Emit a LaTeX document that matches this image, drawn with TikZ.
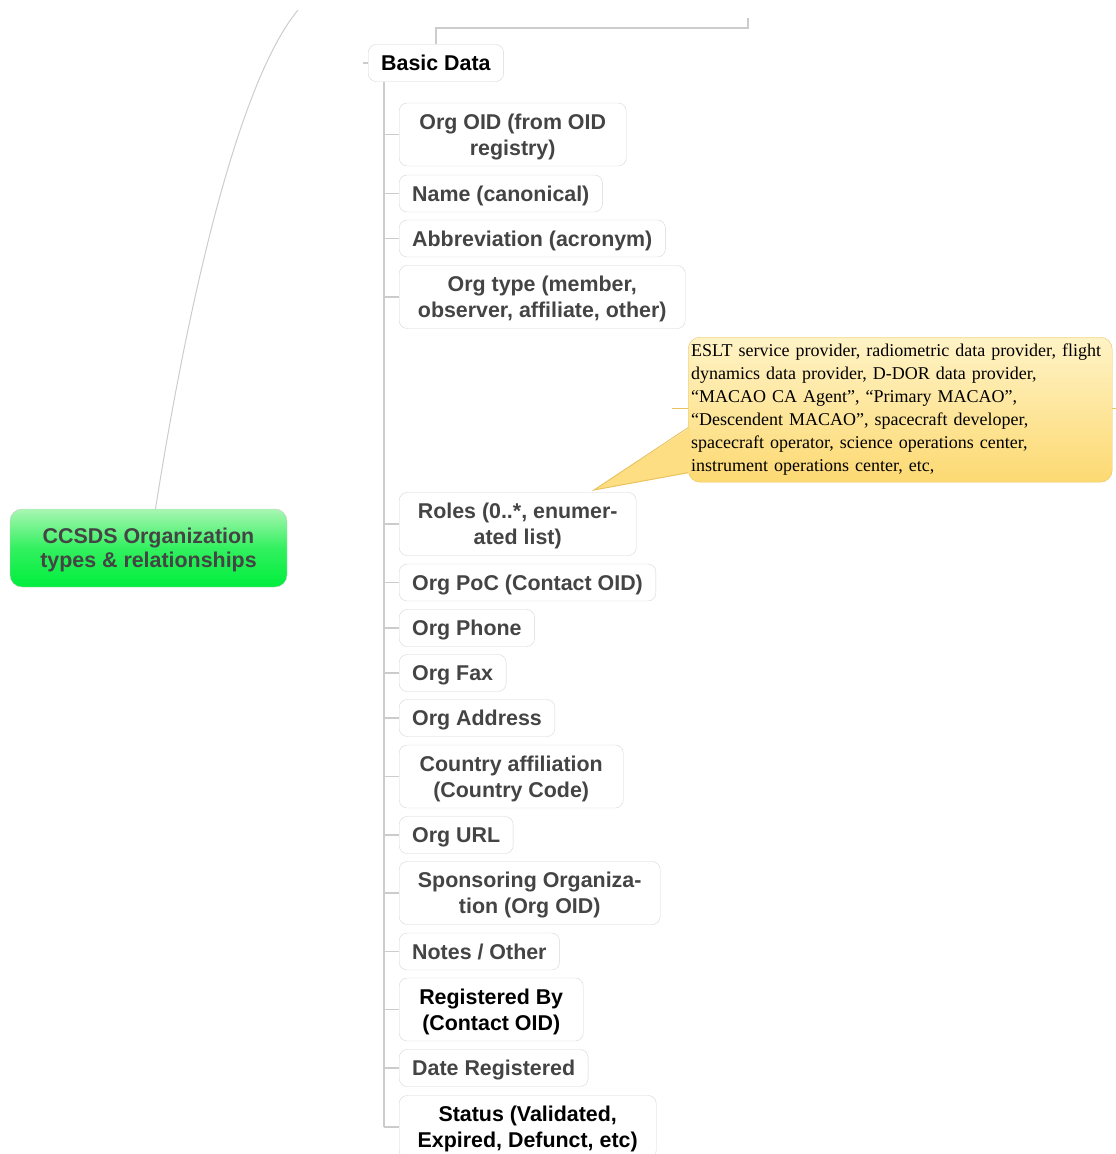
\documentclass[tikz,border=0pt]{standalone}
\usepackage{fontspec}
\setmainfont{Liberation Sans}
\newfontfamily\notefont{Liberation Serif}
\usepackage{xcolor}
\usetikzlibrary{positioning,calc}
\definecolor{linegray}{HTML}{CCCCCC}
\definecolor{boxgray}{HTML}{D6D6D6}
\definecolor{textgray}{HTML}{444444}
\definecolor{rootlight}{HTML}{A8F6B2}
\definecolor{rootgreen}{HTML}{00EE3C}
\definecolor{notelight}{HTML}{FFF3C6}
\definecolor{notedark}{HTML}{FCD972}
\definecolor{noteedge}{HTML}{EBC35E}

\tikzset{
  leaf/.style={draw=boxgray, fill=white, rounded corners=8pt, anchor=west,
    align=center, text=textgray, font=\fontsize{21.4}{26}\selectfont\bfseries,
    inner xsep=13pt, inner ysep=8pt, minimum height=37pt, text depth=-1pt},
  twoline/.style={leaf, minimum height=63pt},
  dark/.style={text=black},
  branch/.style={draw=linegray, line width=1.2pt},
}

\begin{document}
\begin{tikzpicture}[x=1pt,y=-1pt]
    \useasboundingbox (0,0) rectangle (1116,1154);

    % Root
    \node[draw=linegray, rounded corners=12pt, top color=rootlight, bottom color=rootgreen,
          middle color=rootgreen!70!rootlight, minimum width=277pt, minimum height=78pt,
          align=center, text=textgray, text depth=-1pt, font=\fontsize{21.4}{24}\selectfont\bfseries]
          (root) at (148.5,548) {CCSDS Organization\\types \& relationships};
    \coordinate (curveend) at (298,10);
    \draw[draw=linegray, line width=1pt] ($(root.north)+(7,0)$)
        .. controls (190,290) and (240,80) .. (curveend);

    % Basic Data
    \node[leaf, dark] (basic) at (368,63) {Basic Data};
    \coordinate (topend) at (748,18);
    \draw[branch] (basic.north) |- (748,28) -- (topend);
    \coordinate (basicstub) at (363,63);
    \draw[branch] (basic.west) -- (basicstub);

    % Children
    \node[twoline, minimum width=227pt] (oid) at (399,134.5) {Org OID (from OID\\registry)};
    \node[leaf] (name) at (399,193.5) {Name (canonical)};
    \node[leaf] (abbr) at (399,238.5) {Abbreviation (acronym)};
    \node[twoline, minimum width=286pt] (type) at (399,297) {Org type (member,\\observer, affiliate, other)};
    \node[twoline, minimum width=237pt] (roles) at (399,524) {Roles (0..*, enumer-\\ated list)};
    \node[leaf] (poc) at (399,582.5) {Org PoC (Contact OID)};
    \node[leaf] (phone) at (399,628) {Org Phone};
    \node[leaf] (fax) at (399,673) {Org Fax};
    \node[leaf] (addr) at (399,718) {Org Address};
    \node[twoline, minimum width=224pt] (country) at (399,776.5) {Country affiliation\\(Country Code)};
    \node[leaf] (url) at (399,835) {Org URL};
    \node[twoline, minimum width=261pt] (spons) at (399,893) {Sponsoring Organiza-\\tion (Org OID)};
    \node[leaf] (notes) at (399,951.5) {Notes / Other};
    \node[twoline, dark, minimum width=184pt] (regby) at (399,1009.5) {Registered By\\(Contact OID)};
    \node[leaf] (date) at (399,1068) {Date Registered};
    \node[twoline, dark, minimum width=257pt] (status) at (399,1127) {Status (Validated,\\Expired, Defunct, etc)};

    % Spine and branches
    \coordinate (spinetop) at (384,82);
    \draw[branch] (spinetop) -- (spinetop |- status.west);
    \foreach \n in {oid,name,abbr,type,roles,poc,phone,fax,addr,country,url,spons,notes,regby,date,status}
        \draw[branch] (spinetop |- \n.west) -- (\n.west);

    % Roles note
    \coordinate (noteleft) at (672,408);
    \coordinate (noteright) at (1116,408);
    \draw[draw=noteedge, line width=1pt] (noteleft) -- (noteright);
    \node[draw=noteedge, rounded corners=12pt, top color=notelight, bottom color=notedark,
          anchor=north west, minimum width=422pt, minimum height=145pt, align=left,
          text width=418pt, inner xsep=3pt, inner ysep=5pt, text=black,
          font=\notefont\fontsize{18}{23}\selectfont]
          (note) at (688,337) {ESLT service provider, radiometric data provider, flight\\
          dynamics data provider, D-DOR data provider,\\
          “MACAO CA Agent”, “Primary MACAO”,\\
          “Descendent MACAO”, spacecraft developer,\\
          spacecraft operator, science operations center,\\
          instrument operations center, etc,};
    \coordinate (notetip) at (594,490);
    \fill[notedark!80!notelight] ($(note.west)+(2,18)$) -- (notetip) -- ($(note.west)+(2,63)$) -- cycle;
    \draw[draw=noteedge, line width=1pt] ($(note.west)+(0,18)$) -- (notetip) -- ($(note.west)+(0,63)$);
\end{tikzpicture}
\end{document}
